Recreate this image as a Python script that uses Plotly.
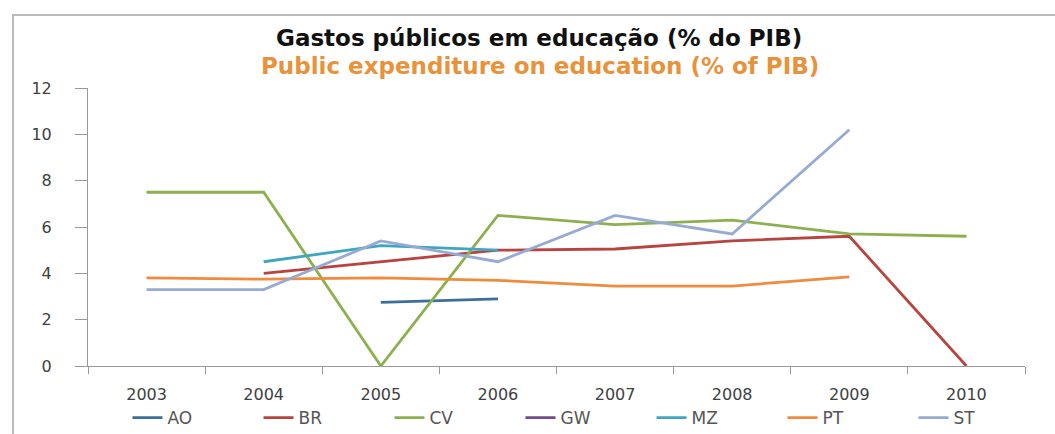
import plotly.graph_objects as go

years = ["2003", "2004", "2005", "2006", "2007", "2008", "2009", "2010"]
AO = [None, None, 2.75, 2.9, None, None, None, None]
BR = [None, 4.0, 4.5, 5.0, 5.05, 5.4, 5.6, 0.0]
CV = [7.5, 7.5, 0.0, 6.5, 6.1, 6.3, 5.7, 5.6]
GW = [None, None, None, None, None, None, None, None]
MZ = [None, 4.5, 5.2, 5.0, None, None, None, None]
PT = [3.8, 3.75, 3.8, 3.7, 3.45, 3.45, 3.85, None]
ST = [3.3, 3.3, 5.4, 4.5, 6.5, 5.7, 10.2, None]

series = [
    ("AO", AO, "#3C6E9E"),
    ("BR", BR, "#B8443F"),
    ("CV", CV, "#8DB04E"),
    ("GW", GW, "#6E4C8E"),
    ("MZ", MZ, "#3FA6BF"),
    ("PT", PT, "#F08A3C"),
    ("ST", ST, "#96AAD4"),
]

title_pt = "Gastos públicos em educação (% do PIB)"
title_en = "Public expenditure on education (% of PIB)"

FONT = "DejaVu Sans, Verdana, sans-serif"

fig = go.Figure()
for name, vals, color in series:
    fig.add_trace(go.Scatter(x=years, y=vals, name=name, mode="lines",
                             line=dict(color=color, width=2.8), connectgaps=False))

W, H = 1055, 434
L, R, T, B = 88, 30, 88, 68
pw, ph = W - L - R, H - T - B

def px(x):
    return (x - L) / pw

def py(y):
    return (H - B - y) / ph

fig.update_layout(
    width=W, height=H,
    margin=dict(l=L, r=R, t=T, b=B, autoexpand=False),
    paper_bgcolor="white", plot_bgcolor="white",
    font=dict(family=FONT, size=15, color="#404040"),
    showlegend=True,
    legend=dict(orientation="h", x=px(586), xanchor="center", y=py(418), yanchor="middle",
                font=dict(size=17, color="#555555"), entrywidth=86, traceorder="normal",
                itemwidth=30, bgcolor="rgba(0,0,0,0)"),
    xaxis=dict(type="category", showgrid=False, showline=True, linecolor="#999999",
               linewidth=1, ticks="outside", ticklen=7, tickcolor="#999999",
               tickson="boundaries", tickfont=dict(size=16, color="#404040"),
               ticklabelposition="outside", ticklabelstandoff=14,
               range=[-0.5, 7.5], fixedrange=True),
    yaxis=dict(range=[0, 12], dtick=2, showgrid=False, showline=True, linecolor="#999999",
               linewidth=1, ticks="outside", ticklen=12, tickcolor="#999999",
               tickfont=dict(size=16, color="#404040"), zeroline=False, fixedrange=True,
               ticklabelposition="outside", ticklabelstandoff=20),
    annotations=[
        dict(text="<b>" + title_pt + "</b>", xref="paper", yref="paper", x=px(539), y=py(38),
             showarrow=False, xanchor="center", yanchor="middle",
             font=dict(family=FONT, size=23, color="#111111")),
        dict(text="<b>" + title_en + "</b>", xref="paper", yref="paper", x=px(540), y=py(66),
             showarrow=False, xanchor="center", yanchor="middle",
             font=dict(family=FONT, size=23, color="#E8923C")),
    ],
    shapes=[
        dict(type="line", xref="paper", yref="paper", x0=px(12), x1=px(W + 5),
             y0=py(15), y1=py(15), line=dict(color="#BBBBBB", width=2), layer="below"),
        dict(type="line", xref="paper", yref="paper", x0=px(13), x1=px(13),
             y0=py(15), y1=py(H + 5), line=dict(color="#BBBBBB", width=2), layer="below"),
    ],
)

fig.write_html("out.html")
